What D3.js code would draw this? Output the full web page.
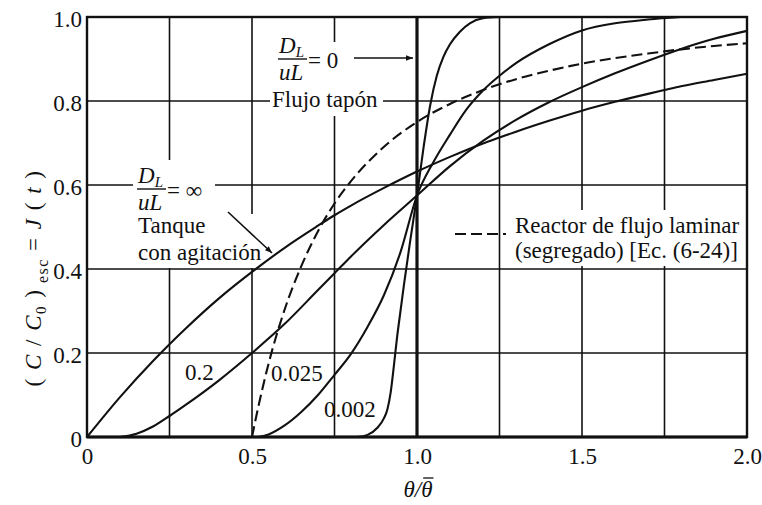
<!DOCTYPE html>
<html>
<head>
<meta charset="utf-8">
<script src="https://cdn.jsdelivr.net/npm/d3@7/dist/d3.min.js"></script>
<style>
  body { margin: 0; background: #fff; }
  svg { display: block; }
  text { font-family: "Liberation Serif", "Times New Roman", serif; fill: #111; }
</style>
</head>
<body>
<svg id="chart" width="762" height="505"></svg>
<script>
// Axis ticks and grid positions
const xTicks = [0, 0.5, 1.0, 1.5, 2.0];
const yTicks = [0, 0.2, 0.4, 0.6, 0.8, 1.0];
const xGrid = [0.25, 0.5, 0.75, 1.25, 1.5, 1.75];
const yGrid = [0.2, 0.4, 0.6, 0.8];

// F-curves, [theta/theta_mean, (C/C0)step]
const tanque = [[0,0],[0.1,0.095],[0.2,0.181],[0.25,0.221],[0.3,0.259],[0.4,0.330],[0.5,0.393],
  [0.6,0.451],[0.7,0.503],[0.75,0.528],[0.8,0.551],[0.9,0.593],[1.0,0.632],[1.1,0.667],
  [1.2,0.699],[1.25,0.713],[1.3,0.727],[1.4,0.753],[1.5,0.777],[1.6,0.798],[1.7,0.817],
  [1.75,0.826],[1.8,0.835],[1.9,0.850],[2.0,0.865]];
const disp02 = [[0.1,0],[0.15,0.008],[0.2,0.025],[0.25,0.05],[0.3,0.077],[0.4,0.135],[0.5,0.2],
  [0.6,0.27],[0.7,0.35],[0.75,0.39],[0.8,0.43],[0.9,0.505],[1.0,0.575],[1.1,0.645],[1.2,0.705],
  [1.3,0.755],[1.4,0.797],[1.5,0.833],[1.6,0.866],[1.7,0.896],[1.8,0.924],[1.9,0.948],[2.0,0.967]];
const disp0025 = [[0.52,0],[0.55,0.006],[0.6,0.028],[0.65,0.06],[0.7,0.1],[0.75,0.148],[0.8,0.198],
  [0.85,0.262],[0.9,0.338],[0.95,0.44],[1.0,0.575],[1.05,0.655],[1.1,0.72],[1.15,0.78],[1.2,0.825],
  [1.25,0.86],[1.3,0.89],[1.4,0.935],[1.5,0.968],[1.6,0.985],[1.7,0.994],[1.8,1.0]];
const disp0002 = [[0.82,0],[0.85,0.005],[0.88,0.022],[0.9,0.045],[0.91,0.065],[0.92,0.105],[0.93,0.17],
  [0.94,0.24],[0.95,0.3],[0.96,0.36],[0.98,0.47],[1.0,0.575],[1.02,0.69],[1.04,0.79],[1.06,0.86],
  [1.08,0.905],[1.1,0.935],[1.13,0.965],[1.16,0.985],[1.2,0.997],[1.25,1.0]];
const laminar = [[0.5,0],[0.52,0.075],[0.55,0.174],[0.6,0.306],[0.65,0.408],[0.7,0.49],[0.75,0.556],
  [0.8,0.609],[0.9,0.691],[1.0,0.75],[1.1,0.793],[1.2,0.826],[1.3,0.852],[1.4,0.872],[1.5,0.889],
  [1.6,0.902],[1.7,0.913],[1.8,0.923],[1.9,0.931],[2.0,0.9375]];
const tapon = [[1.0,0],[1.0,1.0]];

const svg = d3.select("#chart");
const m = { left: 87, right: 747, top: 17, bottom: 437 };
const x = d3.scaleLinear().domain([0, 2]).range([m.left, m.right]);
const y = d3.scaleLinear().domain([0, 1]).range([m.bottom, m.top]);
const ink = "#111";
const fs = 23;

svg.append("defs").append("marker")
  .attr("id", "arrow").attr("viewBox", "0 0 10 10")
  .attr("refX", 10).attr("refY", 5)
  .attr("markerWidth", 10).attr("markerHeight", 7)
  .attr("markerUnits", "userSpaceOnUse")
  .attr("orient", "auto")
  .append("path").attr("d", "M0,1 L10,5 L0,9 Z").attr("fill", ink);

// grid
const grid = svg.append("g").attr("stroke", ink).attr("stroke-width", 1.6);
grid.selectAll("line.v").data(xGrid).join("line").attr("class", "v")
  .attr("x1", d => x(d)).attr("x2", d => x(d)).attr("y1", y(0)).attr("y2", y(1));
grid.selectAll("line.h").data(yGrid).join("line").attr("class", "h")
  .attr("y1", d => y(d)).attr("y2", d => y(d)).attr("x1", x(0)).attr("x2", x(2));

// clear the grid behind the annotations
const clears = [
  [133, 160, 82, 55],     // D_L/uL = inf
  [135, 214, 132, 54],    // Tanque con agitacion
  [305, 42, 48, 44],      // = 0
  [270, 86, 113, 30],     // Flujo tapon
  [511, 210, 234, 56]     // Reactor de flujo laminar
];
svg.append("g").selectAll("rect").data(clears).join("rect")
  .attr("x", d => d[0]).attr("y", d => d[1]).attr("width", d => d[2]).attr("height", d => d[3])
  .attr("fill", "#fff");

// frame
svg.append("rect").attr("x", x(0)).attr("y", y(1))
  .attr("width", x(2) - x(0)).attr("height", y(0) - y(1))
  .attr("fill", "none").attr("stroke", ink).attr("stroke-width", 2.4);
svg.append("line").attr("x1", x(0)).attr("x2", x(2)).attr("y1", y(0)).attr("y2", y(0))
  .attr("stroke", ink).attr("stroke-width", 3);

// axes
const fmt = d => d === 0 ? "0" : d.toFixed(1);
const xAxis = svg.append("g").attr("transform", `translate(0,${y(0)})`)
  .call(d3.axisBottom(x).tickValues(xTicks).tickSize(0).tickPadding(11).tickFormat(fmt));
const yAxis = svg.append("g").attr("transform", `translate(${x(0)},0)`)
  .call(d3.axisLeft(y).tickValues(yTicks).tickSize(0).tickPadding(5).tickFormat(fmt));
[xAxis, yAxis].forEach(a => {
  a.select(".domain").remove();
  a.selectAll("text").attr("font-size", fs).attr("font-family", "Liberation Serif").attr("fill", ink);
});
yAxis.selectAll("text").attr("dy", "0.42em");

// curves
const line = d3.line().x(d => x(d[0])).y(d => y(d[1])).curve(d3.curveMonotoneX);
const curves = svg.append("g").attr("fill", "none").attr("stroke", ink)
  .attr("stroke-linejoin", "round");
[tanque, disp02, disp0025, disp0002].forEach(c =>
  curves.append("path").attr("d", line(c)).attr("stroke-width", 2.1));
curves.append("path").attr("d", line(laminar)).attr("stroke-width", 2.1)
  .attr("stroke-dasharray", "11,5");
curves.append("path").attr("d", d3.line().x(d => x(d[0])).y(d => y(d[1]))(tapon))
  .attr("stroke-width", 3.2);

// annotations
const ann = svg.append("g").attr("font-size", fs);
function fraction(gx, gy) {
  const g = ann.append("g").attr("transform", `translate(${gx},${gy})`);
  const t1 = g.append("text").attr("x", 0).attr("y", -6);
  t1.append("tspan").attr("font-style", "italic").text("D");
  t1.append("tspan").attr("font-style", "italic").attr("font-size", 15).attr("dy", 4).text("L");
  g.append("line").attr("x1", -1).attr("x2", 28).attr("y1", 0).attr("y2", 0)
    .attr("stroke", ink).attr("stroke-width", 1.4);
  g.append("text").attr("x", 0).attr("y", 21).attr("font-style", "italic").text("uL");
  return g;
}
const f0 = fraction(279, 59);
f0.append("text").attr("x", 29).attr("y", 9).text("= 0");
ann.append("line").attr("x1", 354).attr("x2", 413).attr("y1", 58).attr("y2", 58)
  .attr("stroke", ink).attr("stroke-width", 1.6).attr("marker-end", "url(#arrow)");
ann.append("text").attr("x", 272).attr("y", 107).text("Flujo tapón");

const fi = fraction(138, 189);
fi.append("text").attr("x", 29).attr("y", 9).text("= ∞");
ann.append("text").attr("x", 138).attr("y", 233).text("Tanque");
ann.append("text").attr("x", 138).attr("y", 260).text("con agitación");
ann.append("line").attr("x1", 228).attr("x2", 272).attr("y1", 212).attr("y2", 253)
  .attr("stroke", ink).attr("stroke-width", 1.6).attr("marker-end", "url(#arrow)");

ann.append("line").attr("x1", 455).attr("x2", 506).attr("y1", 234).attr("y2", 234)
  .attr("stroke", ink).attr("stroke-width", 2).attr("stroke-dasharray", "11,5");
ann.append("text").attr("x", 515).attr("y", 233).text("Reactor de flujo laminar");
ann.append("text").attr("x", 515).attr("y", 258).text("(segregado) [Ec. (6-24)]");

ann.append("text").attr("x", 185).attr("y", 380).text("0.2");
ann.append("text").attr("x", 271).attr("y", 381).text("0.025");
ann.append("text").attr("x", 324).attr("y", 417).text("0.002");

// axis titles
const yt = svg.append("text").attr("font-size", fs)
  .attr("transform", "translate(41,278) rotate(-90)").attr("text-anchor", "middle")
  .attr("letter-spacing", 1.5);
yt.append("tspan").text("( ");
yt.append("tspan").attr("font-style", "italic").text("C");
yt.append("tspan").text(" / ");
yt.append("tspan").attr("font-style", "italic").text("C");
yt.append("tspan").attr("font-size", 15).attr("dy", 5).text("0");
yt.append("tspan").attr("dy", -5).text(" )");
yt.append("tspan").attr("font-size", 16).attr("dy", 7).text(" esc");
yt.append("tspan").attr("dy", -7).text("  =  ");
yt.append("tspan").attr("font-style", "italic").text("J");
yt.append("tspan").text(" ( ");
yt.append("tspan").attr("font-style", "italic").text("t");
yt.append("tspan").text(" )");

// x title: theta over mean theta, bar drawn over the last glyph
const xt = svg.append("text").attr("x", 418).attr("y", 497).attr("font-size", fs)
  .attr("text-anchor", "middle").attr("font-style", "italic").text("θ/θ");
const node = xt.node();
const bb = node.getBBox();
const lastStart = node.getStartPositionOfChar(2).x;
const lastEnd = node.getEndPositionOfChar(2).x;
svg.append("line").attr("x1", lastStart + 2).attr("x2", lastEnd + 1)
  .attr("y1", bb.y + 1).attr("y2", bb.y + 1)
  .attr("stroke", ink).attr("stroke-width", 1.3);
</script>
</body>
</html>
